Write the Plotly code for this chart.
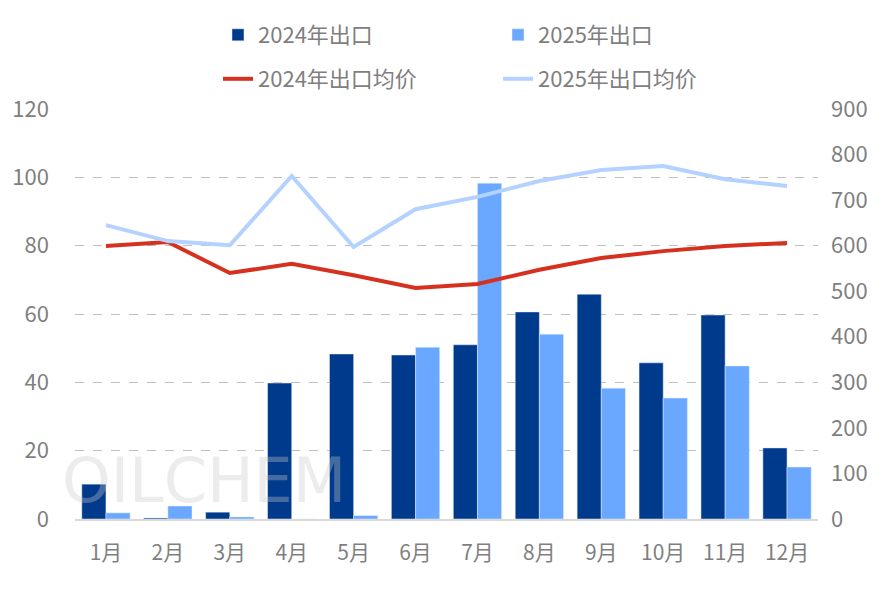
import plotly.graph_objects as go

months = ["1月","2月","3月","4月","5月","6月","7月","8月","9月","10月","11月","12月"]
exp2024 = [10.2,0.3,2.0,39.8,48.3,48.0,51.0,60.6,65.8,45.7,59.7,20.8]
exp2025 = [1.8,3.8,0.6,0,1.0,50.3,98.3,54.1,38.3,35.4,44.8,15.2]
price2024 = [599,608,540,560,535,507,516,547,573,588,599,606]
price2025 = [645,610,601,753,597,680,707,742,766,775,746,731]

fig = go.Figure()
fig.add_bar(x=months, y=exp2024, name="2024年出口", marker_color="#003A8C", legend="legend")
fig.add_bar(x=months, y=exp2025, name="2025年出口", marker_color="#6AA8FF", legend="legend")
fig.add_scatter(x=months, y=price2024, name="2024年出口均价", mode="lines",
                line=dict(color="#D6301F", width=4), yaxis="y2", legend="legend2")
fig.add_scatter(x=months, y=price2025, name="2025年出口均价", mode="lines",
                line=dict(color="#B4D2FF", width=4), yaxis="y2", legend="legend2")

fig.add_annotation(text="OILCHEM", x=-0.02, y=0.0, xref="paper", yref="paper",
                   xanchor="left", yanchor="bottom", showarrow=False,
                   font=dict(size=62, color="rgba(200,200,200,0.35)", family="DejaVu Sans"))

W, H = 887, 591
legfont = dict(size=22, color="#7F7F7F")
fig.update_layout(
    width=W, height=H, plot_bgcolor="white", paper_bgcolor="white",
    font=dict(family="Noto Sans CJK SC", size=20, color="#7F7F7F"),
    margin=dict(l=67, r=77, t=101, b=80, autoexpand=False),
    barmode="group", bargap=0.22, bargroupgap=0.0,
    legend=dict(orientation="h", x=210/W, xref="container", xanchor="left", y=1-6/H, yanchor="top",
                yref="container", font=legfont, entrywidth=235, traceorder="normal"),
    legend2=dict(orientation="h", x=210/W, xref="container", xanchor="left", y=1-50/H, yanchor="top",
                 yref="container", font=legfont, entrywidth=235, traceorder="normal"),
    xaxis=dict(showline=True, linecolor="#D9D9D9", linewidth=1.5, ticks="", tickfont=dict(size=21),
               ticklabelstandoff=14),
    yaxis=dict(range=[0,120], dtick=20, showgrid=True, gridcolor="#BFBFBF",
               griddash="dash", zeroline=False, tickfont=dict(size=22), ticklabelstandoff=25),
    yaxis2=dict(range=[0,900], dtick=100, overlaying="y", side="right",
                showgrid=False, zeroline=False, tickfont=dict(size=22), ticklabelstandoff=12),
)
fig.write_html("out.html")
